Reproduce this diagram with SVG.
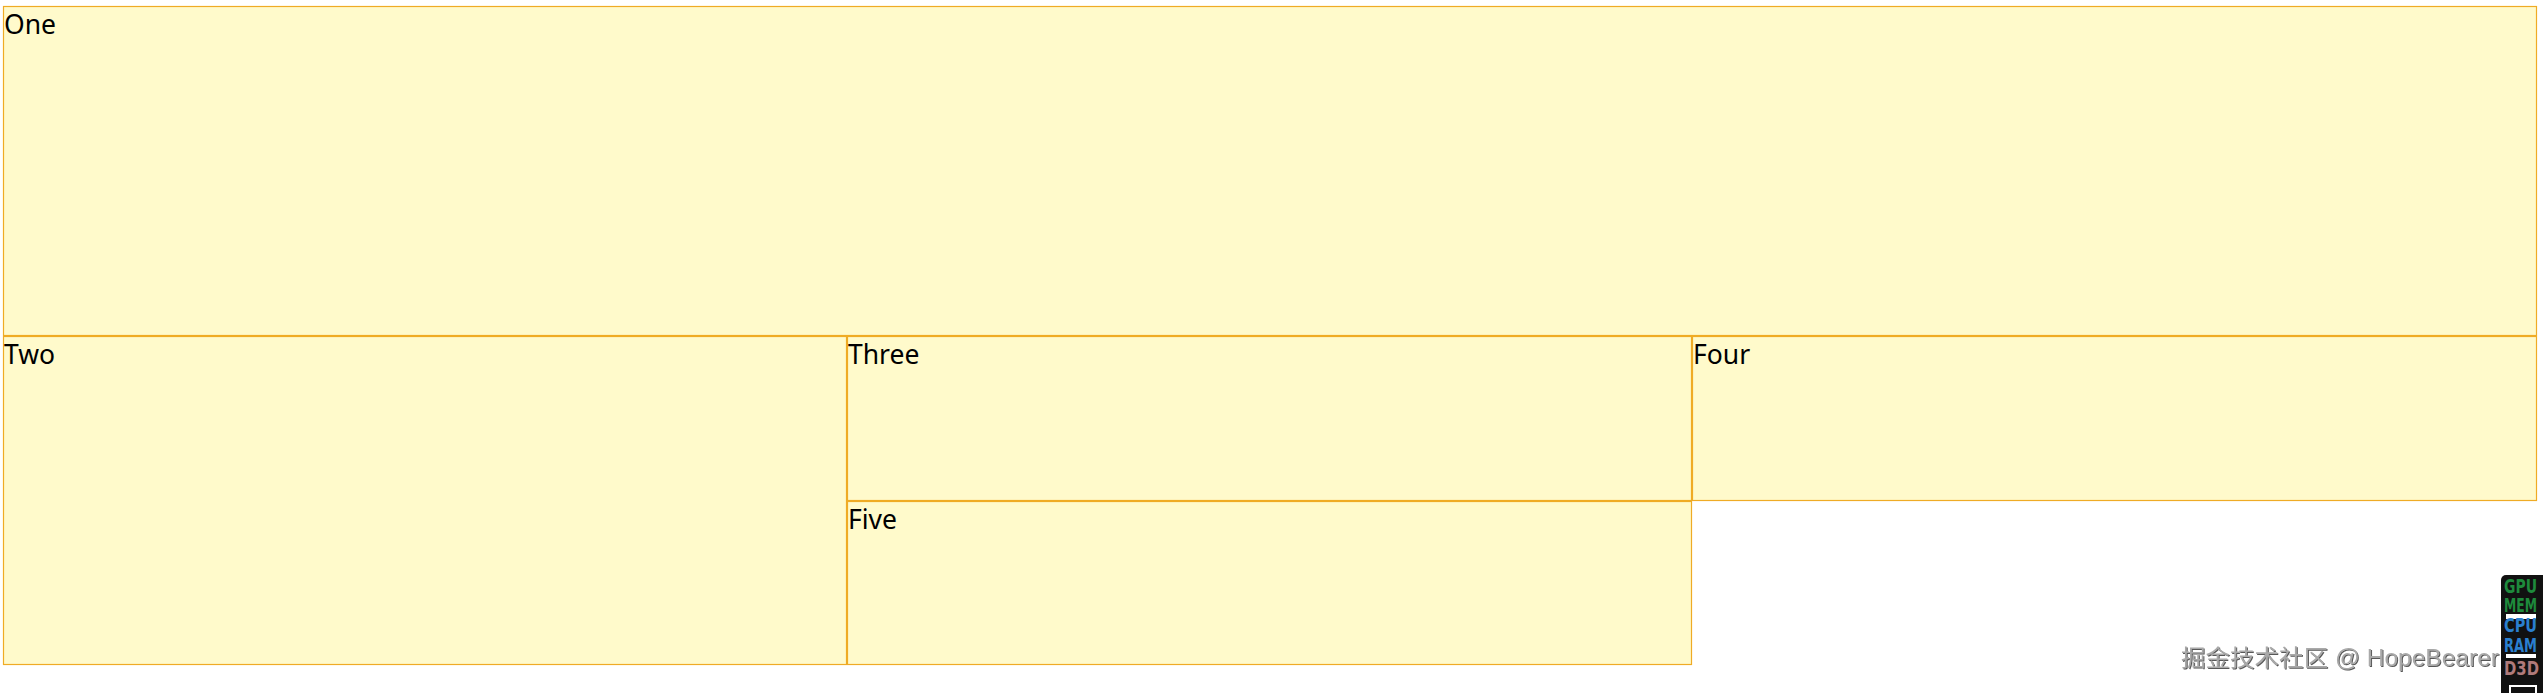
<svg xmlns="http://www.w3.org/2000/svg" width="2543" height="693" viewBox="0 0 2543 693">
  <style>
    .box { fill: #fffacb; stroke: #efab25; stroke-width: 1.2; }
    .lbl { font-family: "Noto Sans", "Open Sans", sans-serif; font-size: 26.5px; fill: #000; }
    .wm { font-family: "Liberation Sans", "Noto Sans CJK SC", sans-serif; font-size: 23px; fill: #a9a9a9; }
    .hud { font-family: "DejaVu Sans Condensed", "DejaVu Sans", sans-serif; font-weight: bold; font-size: 19px; }
  </style>
  <defs>
    <filter id="emboss" x="-5%" y="-30%" width="110%" height="160%">
      <feDropShadow dx="1" dy="1" stdDeviation="0.4" flood-color="#444" flood-opacity="0.9"/>
    </filter>
  </defs>
  <rect x="0" y="0" width="2543" height="693" fill="#ffffff"/>
  <g id="one">
    <rect class="box" x="3.5" y="6.5" width="2533" height="329"/>
    <text class="lbl" x="4" y="34">One</text>
  </g>
  <g id="two">
    <rect class="box" x="3.5" y="336.5" width="843" height="328"/>
    <text class="lbl" x="4" y="364">Two</text>
  </g>
  <g id="three">
    <rect class="box" x="847.5" y="336.5" width="844" height="164"/>
    <text class="lbl" x="848" y="364">Three</text>
  </g>
  <g id="four">
    <rect class="box" x="1692.5" y="336.5" width="844" height="164"/>
    <text class="lbl" x="1693" y="364">Four</text>
  </g>
  <g id="five">
    <rect class="box" x="847.5" y="501.5" width="844" height="163"/>
    <text class="lbl" x="848" y="529">Five</text>
  </g>
  <g id="connectors"></g>
  <g id="watermark">
    <text class="wm" x="2181" y="666" filter="url(#emboss)" textLength="318" lengthAdjust="spacingAndGlyphs">掘金技术社区 @ HopeBearer</text>
  </g>
  <g id="hud">
    <rect x="2501" y="575" width="46" height="125" rx="5" fill="#111111"/>
    <text class="hud" x="2504" y="593" fill="#1e8a3c" textLength="33" lengthAdjust="spacingAndGlyphs">GPU</text>
    <text class="hud" x="2504" y="612" fill="#1e8a3c" textLength="33" lengthAdjust="spacingAndGlyphs">MEM</text>
    <rect x="2506" y="614" width="30" height="5" fill="#ffffff"/>
    <text class="hud" x="2504" y="632" fill="#2a7fcf" textLength="33" lengthAdjust="spacingAndGlyphs">CPU</text>
    <text class="hud" x="2504" y="652" fill="#2a7fcf" textLength="33" lengthAdjust="spacingAndGlyphs">RAM</text>
    <rect x="2506" y="654" width="30" height="4" fill="#ffffff"/>
    <text class="hud" x="2504" y="675" fill="#b07a7a" textLength="35" lengthAdjust="spacingAndGlyphs">D3D</text>
    <rect x="2510" y="686" width="26" height="10" fill="none" stroke="#ffffff" stroke-width="2"/>
  </g>
</svg>
